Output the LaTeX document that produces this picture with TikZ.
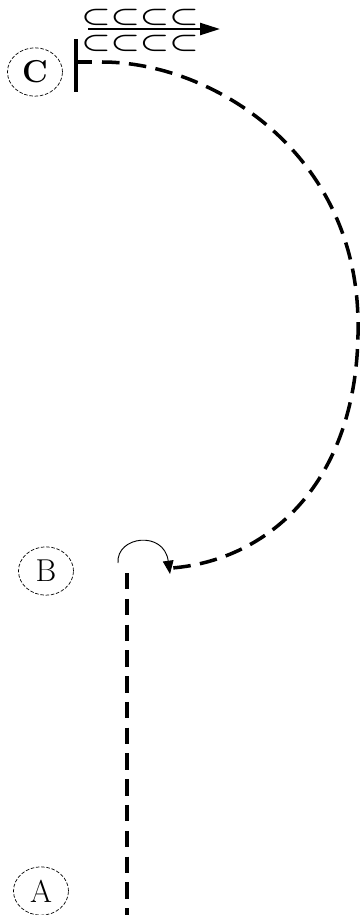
\documentclass[tikz,border=0pt]{standalone}
\usetikzlibrary{arrows.meta,shapes.geometric}
\tikzset{lbl/.style={ellipse,draw,dash pattern=on 3pt off 1.5pt,semithick,minimum width=1.65cm,minimum height=1.45cm,inner sep=0pt,font=\fontsize{27}{29}\selectfont}, strand/.style={line width=3pt,dash pattern=on 15pt off 8pt}, bar/.style={line width=2.6pt}, hop/.style={-{Triangle[length=4mm,width=3.2mm]},thick}, rows/.style={font=\huge,inner sep=0pt}}

\begin{document}
\begin{tikzpicture}[x=0.03cm,y=-0.03cm]
\useasboundingbox(0,0)rectangle(363,915);
\node[lbl](c)at(35,72){\textbf{C}};\node[lbl](b)at(46,571){B};\node[lbl](a)at(41,891){A};
\node[rows](top)at(140,17){\scalebox{1.35}[1]{\boldmath$\subset\subset\subset\subset$}};\node[rows](bot)at(140,43){\scalebox{1.35}[1]{\boldmath$\subset\subset\subset\subset$}};
\coordinate(s0)at(88,29);\coordinate(s1)at(220,29);\draw[-{Triangle[length=6mm,width=3.6mm]},line width=2pt](s0)--(s1);
\coordinate(t0)at(76,39);\coordinate(t1)at(76,92);\coordinate(t2)at(92,62);\draw[bar](t0)--(t1);\draw[bar](t0|-t2)--(t2);
\coordinate(r0)at(102,62);\coordinate(r1)at(358,320);\coordinate(r2)at(172,568);
\draw[strand](r0)..controls(210,62)and(355,150)..(r1)..controls(361,480)and(270,560)..(r2);
\coordinate(h0)at(118,563);\coordinate(h1)at(170,574);\draw[hop](h0)..controls(116,536)and(164,530)..(h1);
\coordinate(d0)at(127,573);\coordinate(d1)at(127,915);\draw[strand,dash pattern=on 14pt off 8pt](d0)--(d1);
\end{tikzpicture}
\end{document}
